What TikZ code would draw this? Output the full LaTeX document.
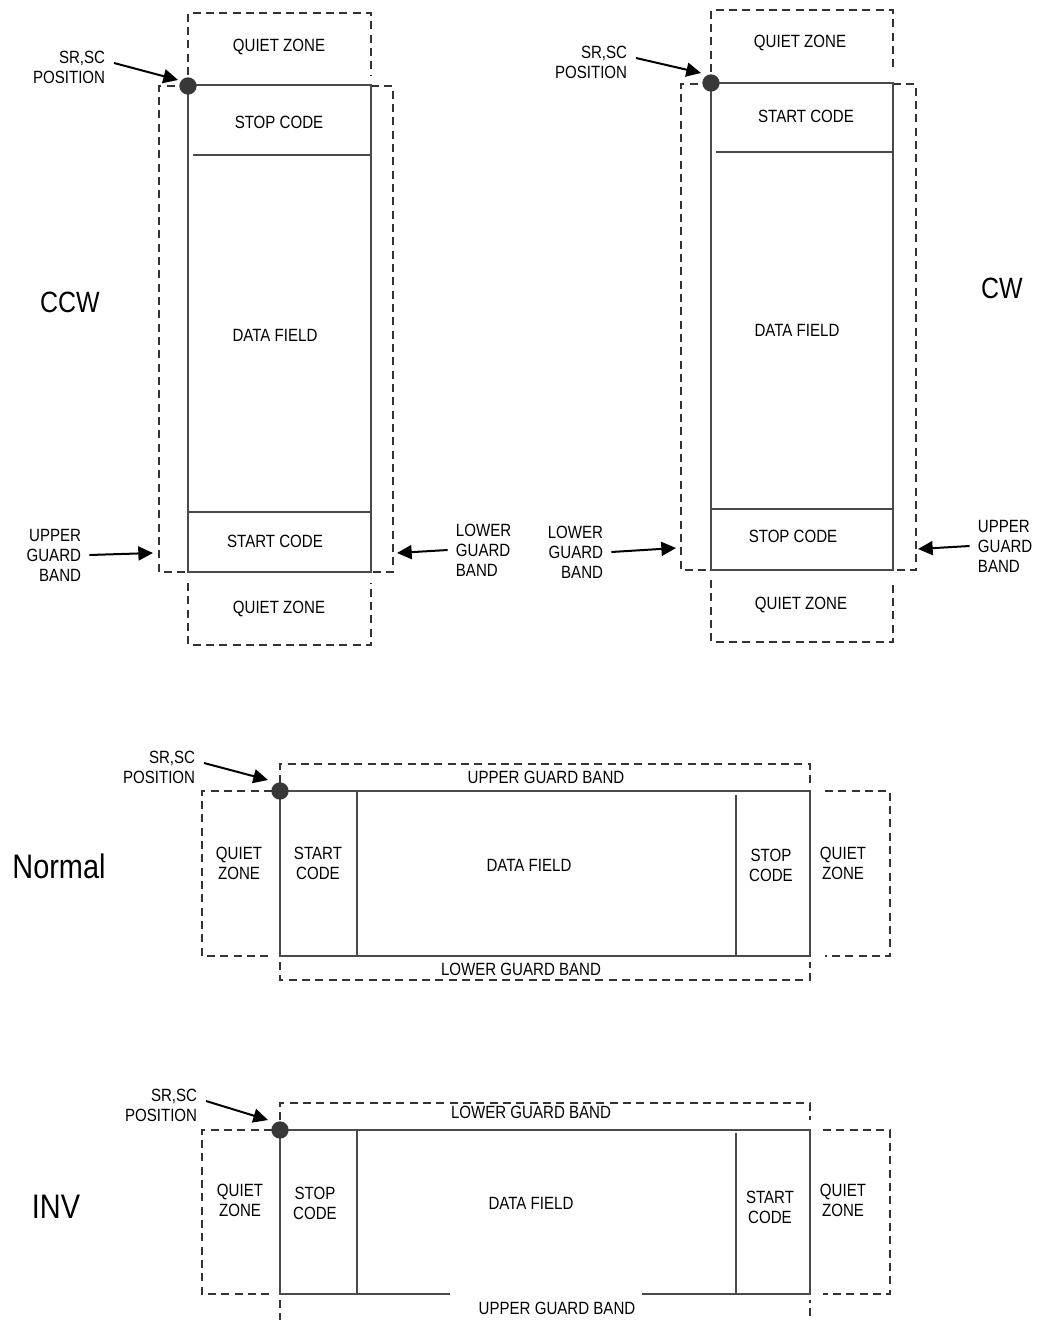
\documentclass[tikz,border=0pt]{standalone}
\usepackage{fontspec}
\setmainfont{Liberation Sans}[FakeStretch=0.85]
\usetikzlibrary{arrows.meta}
\definecolor{bline}{HTML}{4A4A4A}
\definecolor{dline}{HTML}{333333}
\definecolor{ddot}{HTML}{383838}

\begin{document}
\begin{tikzpicture}[
  x=0.75pt,y=-0.75pt,
  lbl/.style={font=\fontsize{13.3}{15}\selectfont,align=center,inner sep=2pt},
  lblr/.style={lbl,align=right},
  lbll/.style={lbl,align=left},
  big/.style={font=\fontsize{22}{26}\selectfont,inner sep=2pt},
  bigger/.style={font=\fontsize{25.5}{30}\selectfont,inner sep=2pt},
  sym/.style={draw=bline,line width=1.3pt},
  zone/.style={draw=dline,line width=1.5pt,dash pattern=on 6pt off 4pt},
  arr/.style={-{Triangle[length=11pt,width=10.5pt]},line width=1.5pt,black},
  srdot/.style={circle,fill=ddot,inner sep=0pt,minimum size=13pt}]
\fill[white] (0,0) rectangle (1044,1320);
\useasboundingbox (0,0) rectangle (1044,1320);

% ---------- CCW: symbol on end, stop code on top ----------
\node[big] (ccw) at (70,302) {CCW};
\draw[zone] (188,75) -- (188,13) -- (371,13) -- (371,75);
\draw[zone] (188,86) -- (159,86) -- (159,572) -- (188,572);
\draw[zone] (371,86) -- (393,86) -- (393,572) -- (371,572);
\draw[zone] (188,583) -- (188,645) -- (371,645) -- (371,583);
\draw[sym] (188,85) rectangle (371,572);
\draw[sym] (193,155) -- (371,155);
\draw[sym] (188,512) -- (371,512);
\node[srdot] (ccw-dot) at (188,86) {};
\node[lbl] (ccw-qz1) at (279,47) {QUIET ZONE};
\node[lbl] (ccw-stop) at (279,122) {STOP CODE};
\node[lbl] (ccw-data) at (275,335) {DATA FIELD};
\node[lbl] (ccw-start) at (275,541) {START CODE};
\node[lbl] (ccw-qz2) at (279,609) {QUIET ZONE};
\node[lblr,anchor=east] (ccw-sr) at (108,67) {SR,SC\\POSITION};
\coordinate (ccw-srtip) at (178,80);
\draw[arr] ([shift={(6,-4)}]ccw-sr.east) -- (ccw-srtip);
\node[lblr,anchor=east] (ccw-ugb) at (84,555) {UPPER\\GUARD\\BAND};
\coordinate (ccw-ugbtip) at (153,553);
\draw[arr] ([xshift=4pt]ccw-ugb.east) -- (ccw-ugbtip);
\node[lbll,anchor=west] (ccw-lgb) at (453,550) {LOWER\\GUARD\\BAND};
\coordinate (ccw-lgbtip) at (397,553);
\draw[arr] ([xshift=-4pt]ccw-lgb.west) -- (ccw-lgbtip);

% ---------- CW: symbol on end, start code on top ----------
\node[big] (cw) at (1002,288) {CW};
\draw[zone] (711,72) -- (711,10) -- (893,10) -- (893,72);
\draw[zone] (711,84) -- (681,84) -- (681,570) -- (711,570);
\draw[zone] (893,84) -- (916,84) -- (916,570) -- (893,570);
\draw[zone] (711,580) -- (711,642) -- (893,642) -- (893,580);
\draw[sym] (711,83) rectangle (893,570);
\draw[sym] (716,152) -- (893,152);
\draw[sym] (711,509) -- (893,509);
\node[srdot] (cw-dot) at (711,83) {};
\node[lbl] (cw-qz1) at (800,43) {QUIET ZONE};
\node[lbl] (cw-start) at (806,116) {START CODE};
\node[lbl] (cw-data) at (797,330) {DATA FIELD};
\node[lbl] (cw-stop) at (793,536) {STOP CODE};
\node[lbl] (cw-qz2) at (801,605) {QUIET ZONE};
\node[lblr,anchor=east] (cw-sr) at (630,62) {SR,SC\\POSITION};
\coordinate (cw-srtip) at (701,73);
\draw[arr] ([shift={(6,-4)}]cw-sr.east) -- (cw-srtip);
\node[lblr,anchor=east] (cw-lgb) at (606,552) {LOWER\\GUARD\\BAND};
\coordinate (cw-lgbtip) at (676,548);
\draw[arr] ([xshift=4pt]cw-lgb.east) -- (cw-lgbtip);
\node[lbll,anchor=west] (cw-ugb) at (975,546) {UPPER\\GUARD\\BAND};
\coordinate (cw-ugbtip) at (918,549);
\draw[arr] ([xshift=-4pt]cw-ugb.west) -- (cw-ugbtip);

% ---------- Normal: symbol lying flat, start code at the left ----------
\node[bigger] (nrm) at (59,866) {Normal};
\draw[zone] (280,783) -- (280,764) -- (810,764) -- (810,783);
\draw[zone] (280,962) -- (280,980) -- (810,980) -- (810,962);
\draw[zone] (272,791) -- (202,791) -- (202,956) -- (272,956);
\draw[zone] (825,791) -- (890,791) -- (890,956) -- (825,956);
\draw[sym] (280,791) rectangle (810,956);
\draw[sym] (357,791) -- (357,956);
\draw[sym] (736,795) -- (736,956);
\node[srdot] (nrm-dot) at (280,791) {};
\node[lbl] (nrm-ugb) at (546,777) {UPPER GUARD BAND};
\node[lbl] (nrm-lgb) at (521,969) {LOWER GUARD BAND};
\node[lbl] (nrm-qz1) at (239,863) {QUIET\\ZONE};
\node[lbl] (nrm-start) at (318,863) {START\\CODE};
\node[lbl] (nrm-data) at (529,865) {DATA FIELD};
\node[lbl] (nrm-stop) at (771,865) {STOP\\CODE};
\node[lbl] (nrm-qz2) at (843,863) {QUIET\\ZONE};
\node[lblr,anchor=east] (nrm-sr) at (198,767) {SR,SC\\POSITION};
\coordinate (nrm-srtip) at (268,780);
\draw[arr] ([shift={(6,-4)}]nrm-sr.east) -- (nrm-srtip);

% ---------- INV: symbol upside down, stop code at the left ----------
\node[bigger] (inv) at (56,1207) {INV};
\draw[zone] (280,1120) -- (280,1103) -- (810,1103) -- (810,1120);
\draw[zone] (280,1300) -- (280,1323) -- (810,1323) -- (810,1300);
\draw[zone] (272,1130) -- (202,1130) -- (202,1294) -- (272,1294);
\draw[zone] (823,1130) -- (890,1130) -- (890,1294) -- (823,1294);
\draw[sym] (450,1294) -- (280,1294) -- (280,1130) -- (810,1130) -- (810,1294) -- (642,1294);
\draw[sym] (357,1130) -- (357,1294);
\draw[sym] (736,1133) -- (736,1294);
\node[srdot] (inv-dot) at (280,1130) {};
\node[lbl] (inv-lgb) at (531,1112) {LOWER GUARD BAND};
\node[lbl] (inv-ugb) at (557,1308) {UPPER GUARD BAND};
\node[lbl] (inv-qz1) at (240,1200) {QUIET\\ZONE};
\node[lbl] (inv-stop) at (315,1203) {STOP\\CODE};
\node[lbl] (inv-data) at (531,1203) {DATA FIELD};
\node[lbl] (inv-start) at (770,1207) {START\\CODE};
\node[lbl] (inv-qz2) at (843,1200) {QUIET\\ZONE};
\node[lblr,anchor=east] (inv-sr) at (200,1105) {SR,SC\\POSITION};
\coordinate (inv-srtip) at (268,1120);
\draw[arr] ([shift={(6,-4)}]inv-sr.east) -- (inv-srtip);
\end{tikzpicture}
\end{document}
